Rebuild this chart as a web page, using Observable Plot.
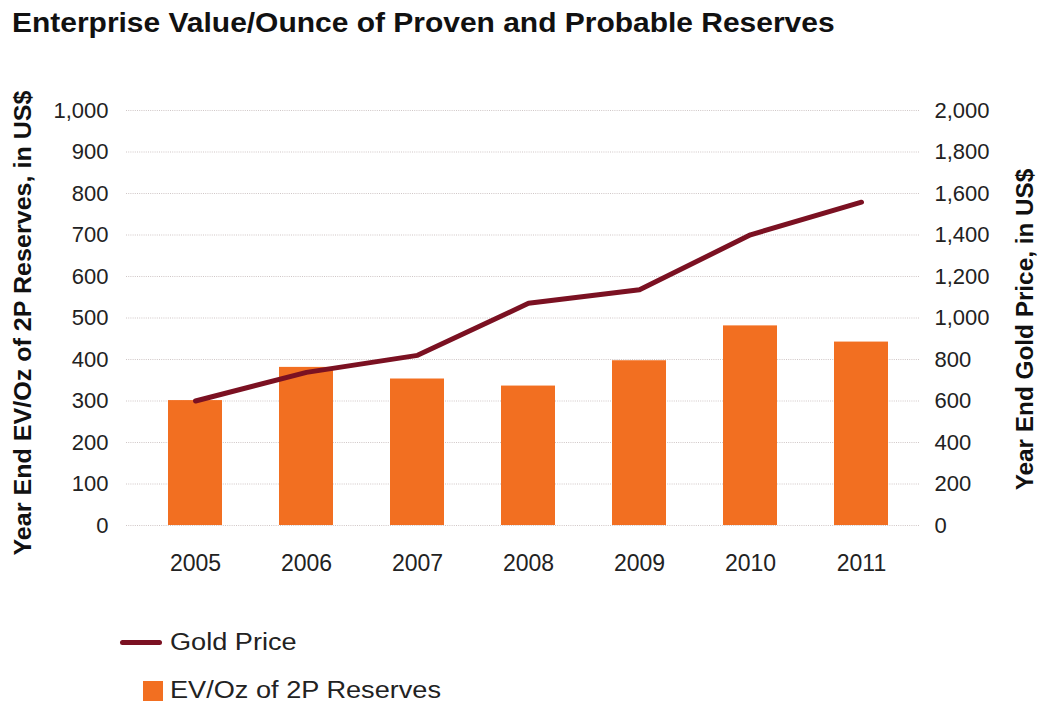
<!DOCTYPE html>
<html>
<head>
<meta charset="utf-8">
<script src="https://cdn.jsdelivr.net/npm/d3@7"></script>
<script src="https://cdn.jsdelivr.net/npm/@observablehq/plot@0.6"></script>
<style>
  html, body { margin: 0; padding: 0; background: #fff; }
  body { width: 1038px; height: 701px; position: relative; overflow: hidden;
         font-family: "Liberation Sans", Arial, Helvetica, sans-serif; color: #222; }
  #title { position: absolute; left: 12px; top: 9px; font-weight: bold; font-size: 28px; line-height: 28px; color: #111;
           white-space: nowrap; transform: scaleX(1.07); transform-origin: 0 0; }
  #chart { position: absolute; left: 0; top: 0; }
  .leg { position: absolute; display: flex; align-items: center; font-size: 23px; color: #222; white-space: nowrap; }
  .leg .line { width: 42px; height: 5px; background: #7b1122; border-radius: 3px; margin-right: 8px; }
  .leg .sq { width: 20px; height: 20px; background: #f26f21; margin-right: 7px; }
  .leg span { display: inline-block; transform: scaleX(1.18); transform-origin: 0 50%; }
</style>
</head>
<body>
<div id="title">Enterprise Value/Ounce of Proven and Probable Reserves</div>
<div id="chart"></div>
<div class="leg" style="left:120px; top:629px;"><div class="line"></div><span>Gold Price</span></div>
<div class="leg" style="left:143px; top:677px;"><div class="sq"></div><span>EV/Oz of 2P Reserves</span></div>
<script>
const years = ["2005", "2006", "2007", "2008", "2009", "2010", "2011"];
const evPerOz = [301, 381, 353, 336, 397, 481, 442];
const goldPrice = [600, 738, 820, 1071, 1136, 1401, 1558];
const leftTicks = [0, 100, 200, 300, 400, 500, 600, 700, 800, 900, 1000];
const rightTicks = [0, 200, 400, 600, 800, 1000, 1200, 1400, 1600, 1800, 2000];
const leftLabel = "Year End EV/Oz of 2P Reserves, in US$";
const rightLabel = "Year End Gold Price, in US$";

const data = years.map((y, i) => ({year: y, ev: evPerOz[i], gold: goldPrice[i]}));
const fmt = d3.format(",");
const font = "Liberation Sans, Arial, Helvetica, sans-serif";

const chart = Plot.plot({
  width: 1038,
  height: 600,
  marginTop: 110,
  marginBottom: 75,
  marginLeft: 126,
  marginRight: 118,
  style: {fontFamily: font, fontSize: "22px", color: "#222", background: "transparent"},
  x: {type: "band", domain: years, range: [167, 890], paddingInner: 0.51, paddingOuter: 0, axis: null},
  y: {domain: [0, 1000], axis: null},
  marks: [
    Plot.ruleY(leftTicks, {stroke: "#cfc6c6", strokeWidth: 1.2, strokeDasharray: "1,1.2"}),
    Plot.barY(data, {x: "year", y: "ev", fill: "#f26f21"}),
    Plot.lineY(data, {x: "year", y: d => d.gold / 2, stroke: "#7b1122", strokeWidth: 5, strokeLinecap: "round", strokeLinejoin: "round"}),
    Plot.axisX({tickSize: 0, tickPadding: 29, fontSize: 23, fill: "#222", label: null}),
    Plot.axisY(leftTicks, {anchor: "left", tickSize: 0, tickPadding: 18, tickFormat: fmt, fontSize: 22, fill: "#222", label: null}),
    Plot.axisY(rightTicks.map(v => v / 2), {anchor: "right", tickSize: 0, tickPadding: 14, tickFormat: d => fmt(d * 2), fontSize: 22, fill: "#222", label: null}),
    Plot.text([leftLabel], {frameAnchor: "left", rotate: -90, dx: -103, dy: 5, fontSize: 23.5, fontWeight: "bold", fill: "#111", textAnchor: "middle", lineAnchor: "middle"}),
    Plot.text([rightLabel], {frameAnchor: "right", rotate: -90, dx: 105, dy: 11.5, fontSize: 23.5, fontWeight: "bold", fill: "#111", textAnchor: "middle", lineAnchor: "middle"})
  ]
});
document.getElementById("chart").appendChild(chart);

// stretch the rotated axis titles along their length to match the reference lettering
const stretch = {[leftLabel]: 465, [rightLabel]: 322};
d3.select(chart).selectAll("text").each(function () {
  const t = this.textContent;
  if (stretch[t]) {
    const w = this.getComputedTextLength();
    const k = stretch[t] / w;
    const tr = this.getAttribute("transform") || "";
    this.setAttribute("transform", tr + ` scale(${k.toFixed(3)},1)`);
  }
});
</script>
</body>
</html>
